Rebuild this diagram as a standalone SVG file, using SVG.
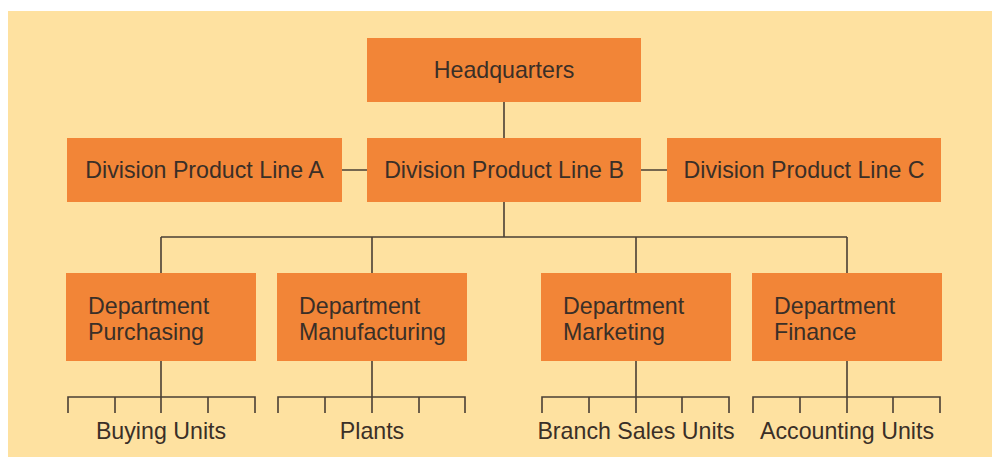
<svg xmlns="http://www.w3.org/2000/svg" width="992" height="457" viewBox="0 0 992 457">
<style>
.box{fill:#F28537}
.t{font-family:"Liberation Sans",Arial,sans-serif;font-size:23.2px;fill:#3a2f27}
.c{text-anchor:middle}
.ln{stroke:#4a3f35;stroke-width:1.6;fill:none}
</style>
<rect x="0" y="0" width="992" height="457" fill="#ffffff"/>
<rect x="8" y="11" width="984" height="446" fill="#FEE1A0"/>
<g id="connectors" class="ln">
<path d="M504 102V138M342 170H367M641 170H667M504 202V237M161 237H847M161 237V273M372 237V273M636 237V273M847 237V273"/>
<path d="M161 361V397M68 413V397H255V413M115 397V413M161 397V413M208 397V413"/>
<path d="M372 361V397M278 413V397H465V413M325 397V413M372 397V413M419 397V413"/>
<path d="M636 361V397M542 413V397H729V413M589 397V413M636 397V413M682 397V413"/>
<path d="M847 361V397M753 413V397H940V413M800 397V413M847 397V413M893 397V413"/>
</g>
<g id="hq"><rect class="box" x="367" y="38" width="274" height="64"/><text class="t c" x="504" y="78">Headquarters</text></g>
<g id="divA"><rect class="box" x="67" y="138" width="275" height="64"/><text class="t c" x="204.5" y="178">Division Product Line A</text></g>
<g id="divB"><rect class="box" x="367" y="138" width="274" height="64"/><text class="t c" x="504" y="178">Division Product Line B</text></g>
<g id="divC"><rect class="box" x="667" y="138" width="274" height="64"/><text class="t c" x="804" y="178">Division Product Line C</text></g>
<g id="deptPurchasing"><rect class="box" x="66" y="273" width="190" height="88"/><text class="t" x="88" y="314">Department</text><text class="t" x="88" y="340">Purchasing</text></g>
<g id="deptManufacturing"><rect class="box" x="277" y="273" width="190" height="88"/><text class="t" x="299" y="314">Department</text><text class="t" x="299" y="340">Manufacturing</text></g>
<g id="deptMarketing"><rect class="box" x="541" y="273" width="190" height="88"/><text class="t" x="563" y="314">Department</text><text class="t" x="563" y="340">Marketing</text></g>
<g id="deptFinance"><rect class="box" x="752" y="273" width="190" height="88"/><text class="t" x="774" y="314">Department</text><text class="t" x="774" y="340">Finance</text></g>
<g id="buyingUnits"><text class="t c" x="161" y="439">Buying Units</text></g>
<g id="plants"><text class="t c" x="372" y="439">Plants</text></g>
<g id="branchSales"><text class="t c" x="636" y="439">Branch Sales Units</text></g>
<g id="accounting"><text class="t c" x="847" y="439">Accounting Units</text></g>
</svg>
